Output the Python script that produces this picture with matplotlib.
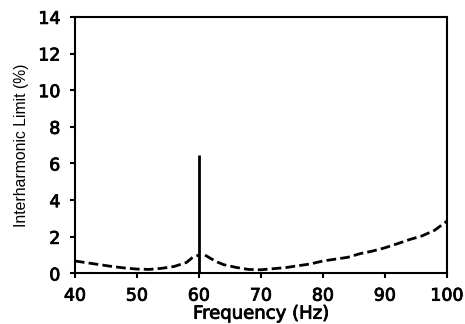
import numpy as np
import matplotlib
matplotlib.use("Agg")
import matplotlib.pyplot as plt
import matplotlib.patheffects as pe

# Limit curve below the fundamental (Hz, %)
freq_low = [40, 42, 44, 46, 48, 50, 52, 54, 56, 58, 59, 60]
limit_low = [0.68, 0.58, 0.48, 0.38, 0.30, 0.24, 0.22, 0.28, 0.38, 0.60, 0.88, 1.0]
# Limit curve above the fundamental
freq_high = [61, 62, 63, 64, 66, 68, 70, 72, 74, 76, 78, 80, 82, 84, 86, 88, 90, 92, 94, 96, 98, 100]
limit_high = [1.0, 0.80, 0.62, 0.48, 0.33, 0.22, 0.20, 0.26, 0.32, 0.42, 0.52, 0.68, 0.78, 0.88,
              1.08, 1.22, 1.40, 1.62, 1.85, 2.05, 2.35, 2.85]
# Fundamental spike
spike_freq = 60
spike_value = 6.45

x_ticks = [40, 50, 60, 70, 80, 90, 100]
y_ticks = [0, 2, 4, 6, 8, 10, 12, 14]

fig = plt.figure(figsize=(4.65, 3.24), dpi=100)
ax = fig.add_axes([0.161, 0.156, 0.800, 0.792])

ax.plot(freq_low, limit_low, color="black", lw=2.0, linestyle=(0, (3.5, 1.5)))
ax.plot(freq_high, limit_high, color="black", lw=2.0, linestyle=(0, (3.5, 1.5)))
ax.vlines(spike_freq, 0, spike_value, color="black", lw=2.0)

ax.set_xlim(40, 100)
ax.set_ylim(0, 14)
ax.set_xticks(x_ticks)
ax.set_yticks(y_ticks)
thick = [pe.withStroke(linewidth=0.6, foreground="black")]
tick_font = {"family": ["DejaVu Sans"], "size": 12.5}
for lab in ax.set_xticklabels([str(v) for v in x_ticks], fontdict=tick_font):
    lab.set_path_effects(thick)
for lab in ax.set_yticklabels([str(v) for v in y_ticks], fontdict=tick_font):
    lab.set_path_effects(thick)
ax.tick_params(direction="out", length=3.5, width=1.5)
ax.tick_params(axis="x", pad=6)
ax.tick_params(axis="y", pad=7)
for s in ax.spines.values():
    s.set_linewidth(1.5)

xl = ax.set_xlabel("Frequency (Hz)", family=["DejaVu Sans"], size=13, labelpad=0)
xl.set_path_effects(thick)
ax.set_ylabel("Interharmonic Limit (%)", family=["Liberation Sans Narrow", "Liberation Sans"], size=11.3, labelpad=7)

fig.savefig("out.png", dpi=100)
